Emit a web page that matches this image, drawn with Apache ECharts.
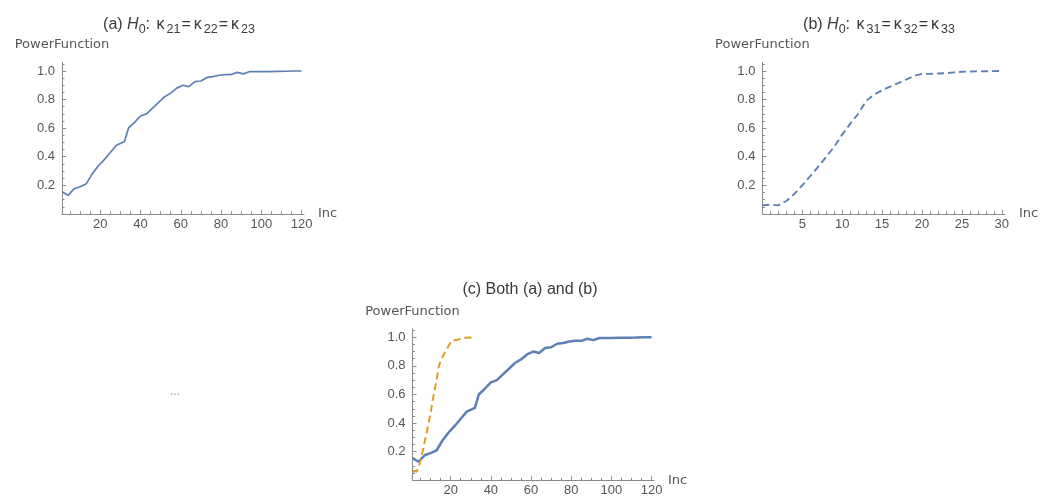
<!DOCTYPE html>
<html>
<head>
<meta charset="utf-8">
<script src="https://cdn.jsdelivr.net/npm/echarts@6/dist/echarts.min.js"></script>
<style>
  html, body { margin: 0; padding: 0; background: #ffffff; }
  #chart { width: 1042px; height: 503px; }
</style>
</head>
<body>
<div id="chart"></div>
<script>
// Power of the test as the increment grows, hypothesis (a)
const incA = [1, 4, 7, 10, 13, 16, 19, 22, 25, 28, 31, 32, 34, 37, 40, 43, 46, 49, 52, 55,
              58, 61, 64, 67, 70, 73, 76, 79, 82, 85, 88, 91, 94, 97, 100, 104, 108, 112, 116, 120];
const powerA = [0.155, 0.13, 0.175, 0.19, 0.21, 0.28, 0.335, 0.38, 0.43, 0.48, 0.50, 0.505, 0.60, 0.64, 0.685, 0.70, 0.74, 0.78, 0.82, 0.845,
                0.88, 0.90, 0.89, 0.925, 0.93, 0.955, 0.96, 0.97, 0.975, 0.975, 0.99, 0.98, 0.995, 0.995, 0.995, 0.996, 0.997, 0.998, 1.0, 1.0];

// Power of the test as the increment grows, hypothesis (b)
const incB = [0, 1, 2, 3, 4, 5, 6, 7, 8, 9, 10, 11, 12, 13, 14, 15, 16, 17, 18, 19,
              20, 21, 22, 23, 24, 25, 26, 27, 28, 29, 30];
const powerB = [0.06, 0.065, 0.06, 0.09, 0.14, 0.20, 0.265, 0.33, 0.40, 0.47, 0.555, 0.63, 0.70, 0.79, 0.835, 0.865, 0.89, 0.915, 0.94, 0.965,
                0.98, 0.98, 0.982, 0.985, 0.99, 0.995, 0.996, 0.997, 0.998, 0.999, 1.0];

// In the combined panel the (b) curve is listed by position, starting at 1
const incBList = [1, 2, 3, 4, 5, 6, 7, 8, 9, 10, 11, 12, 13, 14, 15, 16, 17, 18, 19, 20,
                  21, 22, 23, 24, 25, 26, 27, 28, 29, 30, 31];

// Tick labels
const ticksX120 = [20, 40, 60, 80, 100, 120];
const ticksX30 = [5, 10, 15, 20, 25, 30];
const ticksY = [0.2, 0.4, 0.6, 0.8, 1.0];

const titleA = '(a) {it|H}{sub|0}: {k|κ}{sub|21}{eq|=}{k|κ}{sub|22}{eq|=}{k|κ}{sub|23}';
const titleB = '(b) {it|H}{sub|0}: {k|κ}{sub|31}{eq|=}{k|κ}{sub|32}{eq|=}{k|κ}{sub|33}';
const titleC = '(c) Both (a) and (b)';
const yName = 'PowerFunction';
const xName = 'Inc';

const BLUE = '#5E81B5';
const ORANGE = '#E19C24';
const AXIS = '#8a8a8a';
const LABEL = '#555555';
const TITLE = '#3a3a3a';
const SANS = '"Liberation Sans", Arial, sans-serif';
const WIDE = '"DejaVu Sans", sans-serif';

function minorTicks(step, max, majors) {
  const out = [];
  for (let v = step; v <= max + 1e-9; v += step) {
    const r = Math.round(v * 1000) / 1000;
    if (!majors.some(m => Math.abs(m - r) < 1e-6)) out.push(r);
  }
  return out;
}

function pairs(xs, ys) { return xs.map((x, i) => [x, ys[i]]); }

function xAxes(grid, min, max, majors, minorStep) {
  return [
    {
      type: 'value', gridIndex: grid, position: 'bottom', min: min, max: max,
      axisLine: { show: true, onZero: false, lineStyle: { color: AXIS, width: 1 } },
      axisTick: { show: true, inside: true, length: 4, customValues: majors, lineStyle: { color: AXIS } },
      axisLabel: { customValues: majors, margin: 4, color: LABEL, fontSize: 13, fontFamily: SANS },
      splitLine: { show: false },
      name: xName, nameLocation: 'end', nameGap: 14,
      nameTextStyle: { color: LABEL, fontSize: 13, fontFamily: WIDE, verticalAlign: 'middle' }
    },
    {
      type: 'value', gridIndex: grid, position: 'bottom', min: min, max: max,
      axisLine: { show: false },
      axisTick: { show: true, inside: true, length: 2.5, customValues: minorTicks(minorStep, max, majors), lineStyle: { color: AXIS } },
      axisLabel: { show: false },
      splitLine: { show: false }
    }
  ];
}

function yAxes(grid) {
  return [
    {
      type: 'value', gridIndex: grid, position: 'left', min: 0, max: 1.06,
      axisLine: { show: true, onZero: false, lineStyle: { color: AXIS, width: 1 } },
      axisTick: { show: true, inside: true, length: 4, customValues: ticksY, lineStyle: { color: AXIS } },
      axisLabel: { customValues: ticksY, margin: 7, color: LABEL, fontSize: 13, fontFamily: SANS,
                   formatter: v => v.toFixed(1) },
      splitLine: { show: false },
      name: yName, nameLocation: 'end', nameGap: 11,
      nameTextStyle: { color: LABEL, fontSize: 13, fontFamily: WIDE, align: 'center' }
    },
    {
      type: 'value', gridIndex: grid, position: 'left', min: 0, max: 1.06,
      axisLine: { show: false },
      axisTick: { show: true, inside: true, length: 2.5, customValues: minorTicks(0.05, 1.06, ticksY), lineStyle: { color: AXIS } },
      axisLabel: { show: false },
      splitLine: { show: false }
    }
  ];
}

const titleRich = {
  it: { fontStyle: 'italic', fontSize: 16, fontFamily: SANS, fill: TITLE, verticalAlign: 'middle', lineHeight: 22 },
  k: { fontSize: 16, fontFamily: SANS, fill: TITLE, verticalAlign: 'middle', lineHeight: 22, padding: [0, 2, 0, 2] },
  sub: { fontSize: 12.5, fontFamily: SANS, fill: TITLE, verticalAlign: 'bottom', lineHeight: 22 },
  eq: { fontSize: 16, fontFamily: SANS, fill: TITLE, verticalAlign: 'middle', lineHeight: 22, padding: [0, 1, 0, 1] }
};

function titleText(text, x, y) {
  return {
    type: 'text', x: x, y: y, silent: true,
    style: {
      text: text, align: 'center', verticalAlign: 'middle',
      fontSize: 16, fontFamily: SANS, fill: TITLE, lineHeight: 22,
      rich: titleRich
    }
  };
}

const chart = echarts.init(document.getElementById('chart'), null, { renderer: 'canvas' });

chart.setOption({
  animation: false,
  backgroundColor: '#ffffff',
  grid: [
    { left: 62, top: 62.4, width: 242, height: 151.5 },
    { left: 762.4, top: 62.4, width: 242.6, height: 151.5 },
    { left: 412.5, top: 328.7, width: 241.5, height: 151.6 }
  ],
  xAxis: [].concat(
    xAxes(0, 1, 121.2, ticksX120, 5),
    xAxes(1, 0, 30.4, ticksX30, 1),
    xAxes(2, 1, 121.2, ticksX120, 5)
  ),
  yAxis: [].concat(yAxes(0), yAxes(1), yAxes(2)),
  series: [
    {
      type: 'line', xAxisIndex: 0, yAxisIndex: 0, data: pairs(incA, powerA),
      showSymbol: false, lineStyle: { color: BLUE, width: 1.7 }, z: 3
    },
    {
      type: 'line', xAxisIndex: 2, yAxisIndex: 2, data: pairs(incB, powerB),
      showSymbol: false, lineStyle: { color: BLUE, width: 1.9, type: [7, 4] }, z: 3
    },
    {
      type: 'line', xAxisIndex: 4, yAxisIndex: 4, data: pairs(incA, powerA),
      showSymbol: false, lineStyle: { color: BLUE, width: 2.5 }, z: 3
    },
    {
      type: 'line', xAxisIndex: 4, yAxisIndex: 4, data: pairs(incBList, powerB),
      showSymbol: false, lineStyle: { color: ORANGE, width: 2, type: [7, 4] }, z: 4
    }
  ],
  graphic: [
    titleText(titleA, 179, 25),
    titleText(titleB, 879, 25),
    titleText(titleC, 530, 290),
    {
      type: 'text', x: 175, y: 392, silent: true,
      style: { text: '...', align: 'center', verticalAlign: 'middle', fontSize: 12, fontFamily: SANS, fill: '#9a9a9a' }
    }
  ]
});
</script>
</body>
</html>
